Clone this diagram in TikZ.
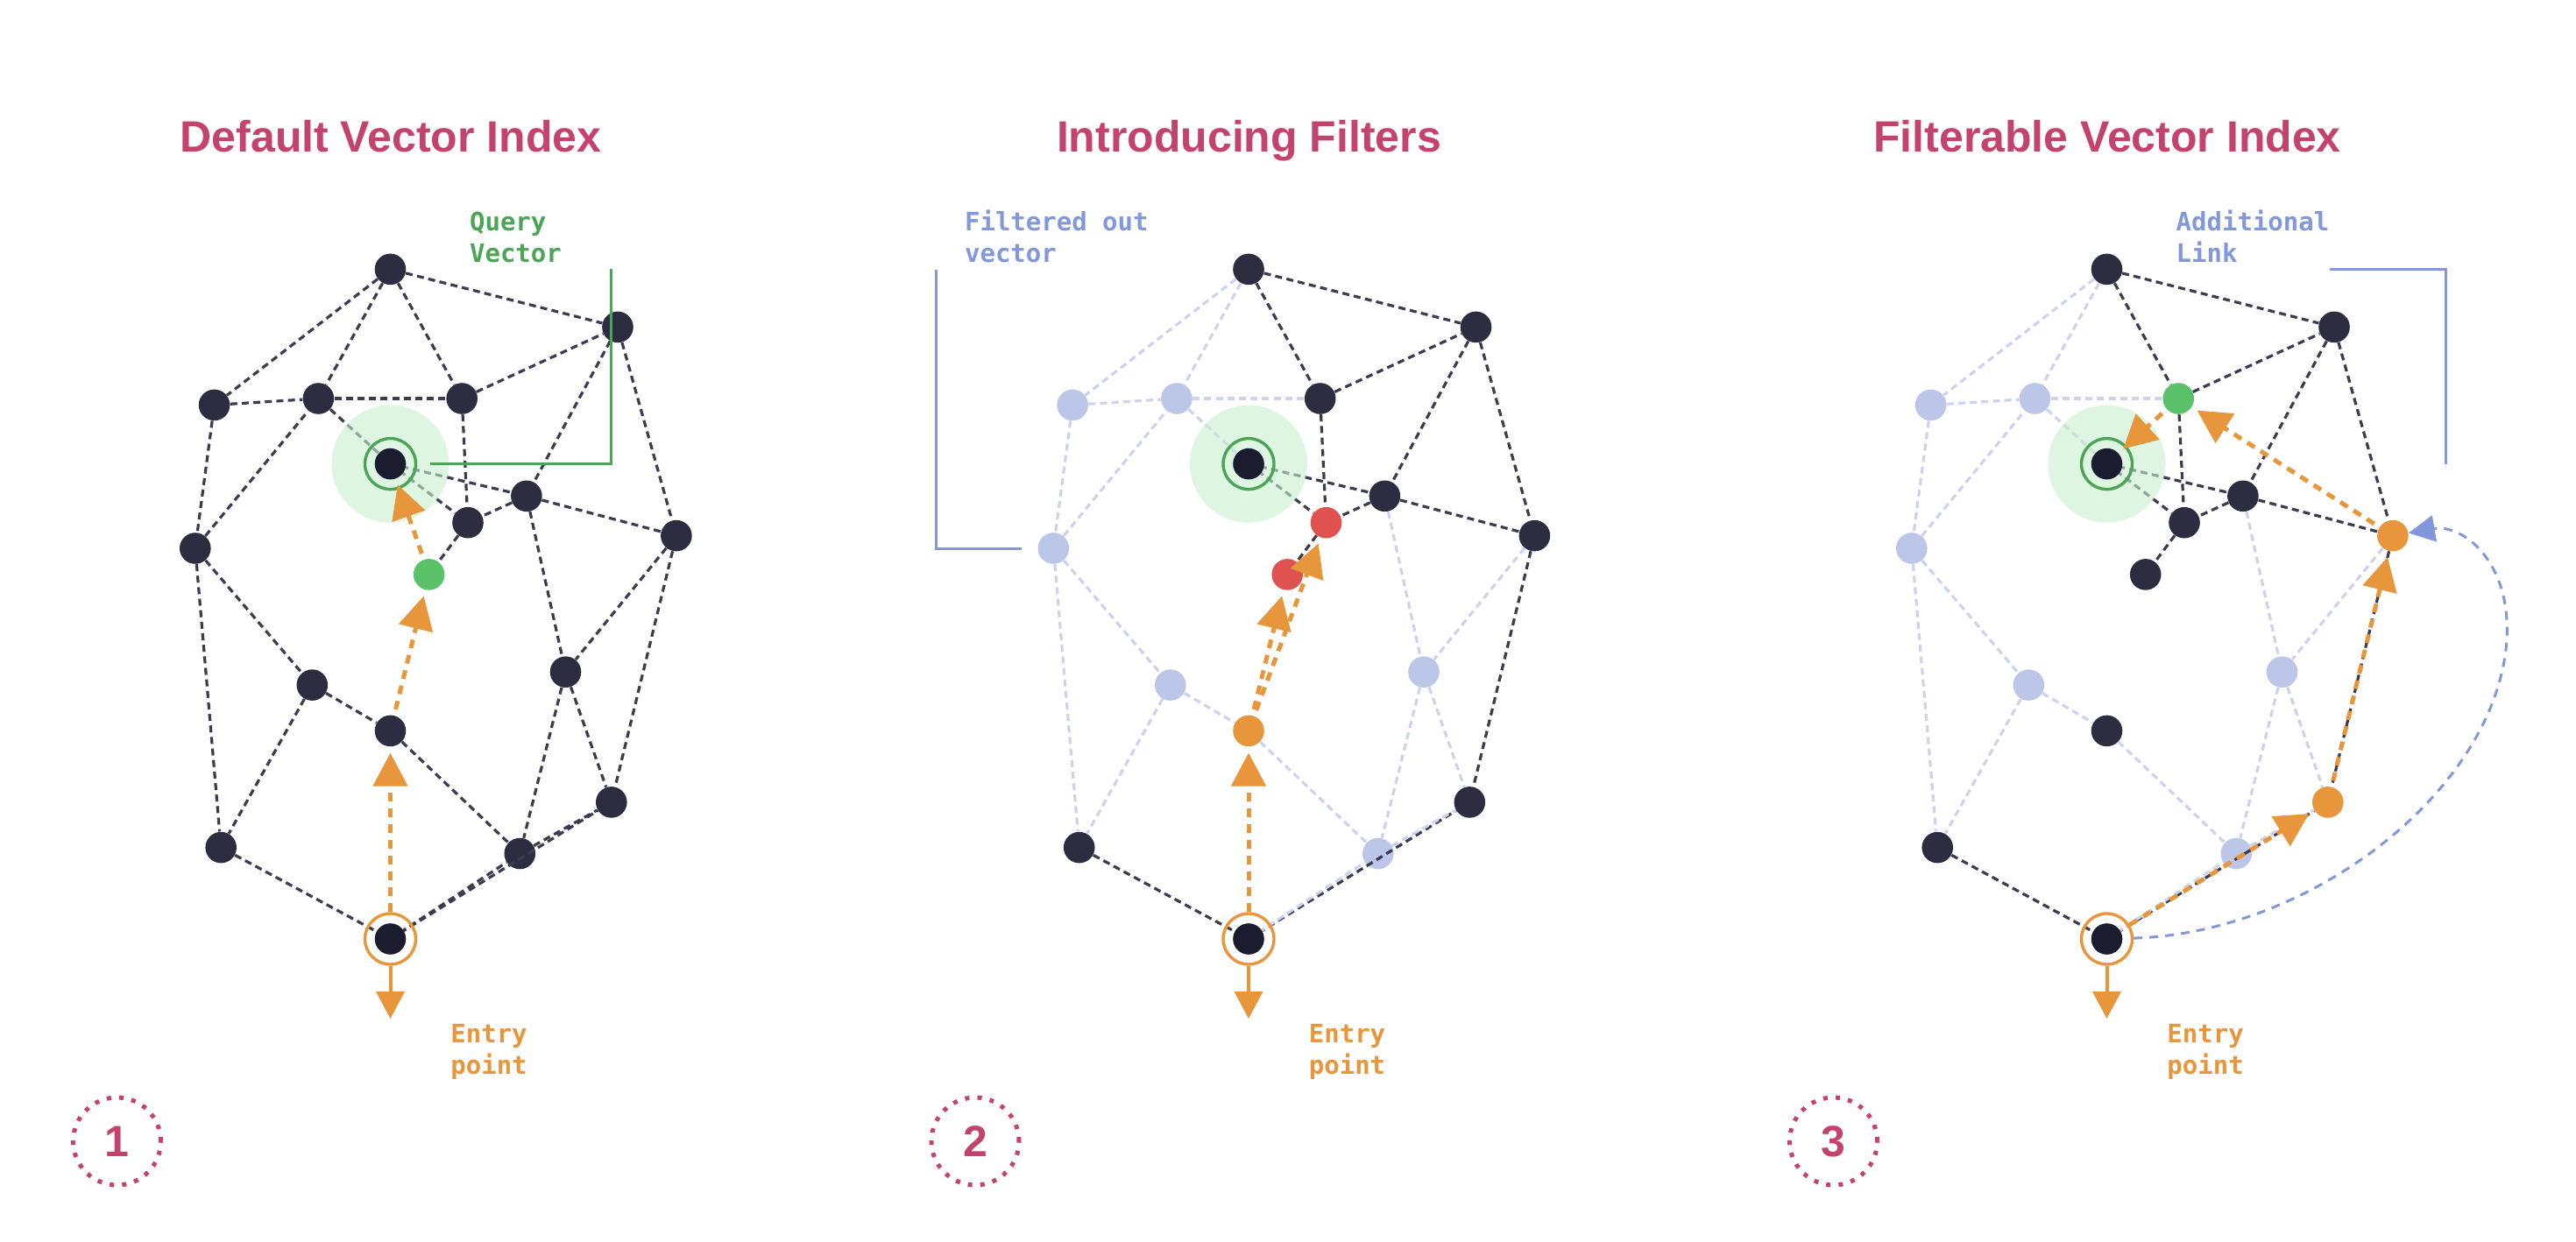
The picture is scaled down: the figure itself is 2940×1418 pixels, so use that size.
\documentclass[tikz,border=0pt]{standalone}
\usepackage{fontspec}
\setmainfont{Liberation Sans}
\newfontfamily\monofont{DejaVu Sans Mono}
\usetikzlibrary{arrows.meta}

\definecolor{nodedark}{HTML}{2D2D42}
\definecolor{nodeink}{HTML}{1C1C30}
\definecolor{linedark}{HTML}{3C3C50}
\definecolor{nodefade}{HTML}{BCC6E8}
\definecolor{linefade}{HTML}{CDD3EE}
\definecolor{pathorange}{HTML}{E8963C}
\definecolor{hitgreen}{HTML}{5CC26A}
\definecolor{ringgreen}{HTML}{4CA556}
\definecolor{halogreen}{RGB}{200,238,207}
\definecolor{dropred}{HTML}{DF5250}
\definecolor{linkblue}{HTML}{8398DA}
\definecolor{titlered}{HTML}{C4436D}

\tikzset{
    vtx/.style={circle,fill=nodedark,minimum size=17.8pt,inner sep=0pt},
    vfade/.style={vtx,fill=nodefade},
    vgreen/.style={vtx,fill=hitgreen},
    vred/.style={vtx,fill=dropred},
    vorange/.style={vtx,fill=pathorange},
    vcore/.style={vtx,fill=nodeink},
    qring/.style={circle,draw=ringgreen,line width=1.7pt,minimum size=29pt,inner sep=0pt},
    ering/.style={qring,draw=pathorange},
    halo/.style={circle,fill=halogreen,fill opacity=0.6,minimum size=67pt,inner sep=0pt},
    graphline/.style={draw=linedark,line width=1.6pt,dash pattern=on 4pt off 2.6pt},
    fadeline/.style={graphline,draw=linefade},
    hop/.style={draw=pathorange,line width=2.5pt,dash pattern=on 5pt off 4pt,
        -{Triangle[length=19pt,width=19.5pt]},shorten >=3.5pt,shorten <=3.5pt},
    exitarrow/.style={draw=pathorange,line width=2pt,-{Triangle[length=15.5pt,width=16pt]}},
    callout/.style={line width=1.5pt},
    paneltitle/.style={anchor=base,text=titlered,font=\bfseries\fontsize{25}{30}\selectfont},
    badge/.style={circle,draw=titlered,text=titlered,line width=2.5pt,dash pattern=on 2.5pt off 4.6pt,
        minimum size=50pt,inner sep=0pt,font=\bfseries\fontsize{25}{30}\selectfont},
    lbl/.style={anchor=base west,align=left,inner sep=0pt,font=\monofont\bfseries\fontsize{14.5}{18}\selectfont},
}

\begin{document}
\begin{tikzpicture}[x=0.5pt,y=-0.5pt]
    \useasboundingbox (0,0) rectangle (2940,1418);

    %the three panels
    \foreach \k/\dx/\ttl/\fs/\fe/\mrs/\bs/\gs/\cs/\frs/\brs in {
        1/0/Default Vector Index/vtx/graphline/vtx/vtx/vgreen/vtx/vtx/vtx,
        2/979.5/Introducing Filters/vfade/fadeline/vtx/vred/vred/vorange/vtx/vtx,
        3/1959/Filterable Vector Index/vfade/fadeline/vgreen/vtx/vtx/vtx/vorange/vorange}{
    \begin{scope}[shift={(\dx,0)}]
        %title
        \node[paneltitle] (title\k) at (446,174) {\ttl};

        %graph nodes
        \node[vtx] (top\k) at (445.5,307.4) {};
        \node[vtx] (nr\k) at (705,373.4) {};
        \node[\fs] (lt\k) at (244.6,462.4) {};
        \node[\fs] (ml\k) at (363.4,455) {};
        \node[\mrs] (mr\k) at (527.2,455) {};
        \coordinate (q\k) at (445.5,529.6);
        \node[vtx] (a\k) at (600.9,566.3) {};
        \node[\bs] (b\k) at (534,596.7) {};
        \node[\frs] (fr\k) at (771.9,611.6) {};
        \node[\fs] (fl\k) at (222.8,626) {};
        \node[\gs] (g\k) at (489.7,655.9) {};
        \node[\fs] (rt\k) at (645.5,767.2) {};
        \node[\fs] (lo\k) at (356.3,782.1) {};
        \node[\cs] (c\k) at (445.5,834.4) {};
        \node[\brs] (br\k) at (697.8,915.9) {};
        \node[vtx] (bl\k) at (252.2,967.6) {};
        \node[\fs] (bm\k) at (593.3,974.5) {};
        \coordinate (e\k) at (445.5,1072);

        %links
        \foreach \na/\nb in {top/mr,top/nr,mr/nr,mr/b,nr/a,nr/fr,a/b,a/fr,b/g,fr/br,bl/e,e/br,q/b,q/a}
            \draw[graphline] (\na\k) -- (\nb\k);
        \foreach \na/\nb in {top/lt,top/ml,lt/ml,lt/fl,ml/mr,ml/q,a/rt,fl/ml,fl/lo,fl/bl,fr/rt,lo/c,lo/bl,c/bm,rt/bm,rt/br,e/bm,bm/br}
            \draw[\fe] (\na\k) -- (\nb\k);

        %query vector
        \node[halo] (halo\k) at (q\k) {};
        \node[vcore] (qc\k) at (q\k) {};
        \node[qring] (qr\k) at (q\k) {};

        %entry point
        \node[vcore] (ec\k) at (e\k) {};
        \node[ering] (er\k) at (e\k) {};
        \coordinate (ed\k) at (445.5,1163);
        \draw[exitarrow] (er\k) -- (ed\k);
        \node[lbl,text=pathorange] (entry\k) at (514,1226) {Entry\\point};

        %step number
        \node[badge] (num\k) at (133.5,1303) {\k};
    \end{scope}
    }

    %search paths
    \draw[hop,shorten <=0pt] (er1) -- (c1);
    \draw[hop] (c1) -- (g1);
    \draw[hop] (g1) -- (qc1);

    \draw[hop,shorten <=0pt] (er2) -- (c2);
    \draw[hop] (c2) -- (g2);
    \draw[hop] (c2) -- (b2);

    \draw[hop,shorten <=0pt] (er3) -- (br3);
    \draw[hop] (br3) -- (fr3);
    \draw[hop] (fr3) -- (mr3);
    \draw[hop] (mr3) -- (qc3);

    %callouts
    \coordinate (qv) at (697.8,307.4);
    \draw[callout,ringgreen,shorten >=7.5pt] (qv) |- (qr1);
    \node[lbl,text=ringgreen] (qvtext) at (535.7,299) {Query\\Vector};

    \coordinate (fo) at (1068.9,307.9);
    \draw[callout,linkblue,shorten >=9pt] (fo) |- (fl2);
    \node[lbl,text=linkblue] (fotext) at (1100.7,299) {Filtered out\\vector};

    \coordinate (al) at (2658.7,307.9);
    \coordinate (alend) at (2791,530.3);
    \draw[callout,linkblue] (al) -| (alend);
    \node[lbl,text=linkblue] (altext) at (2483.3,299) {Additional\\Link};

    %additional link
    \draw[linkblue,line width=1.5pt,dash pattern=on 5pt off 4pt,-{Triangle[length=15pt,width=15pt]}]
        (er3) .. controls (2640,1065) and (2850,900) .. (2861,730)
              .. controls (2866,640) and (2810,598) .. (fr3);
\end{tikzpicture}
\end{document}
